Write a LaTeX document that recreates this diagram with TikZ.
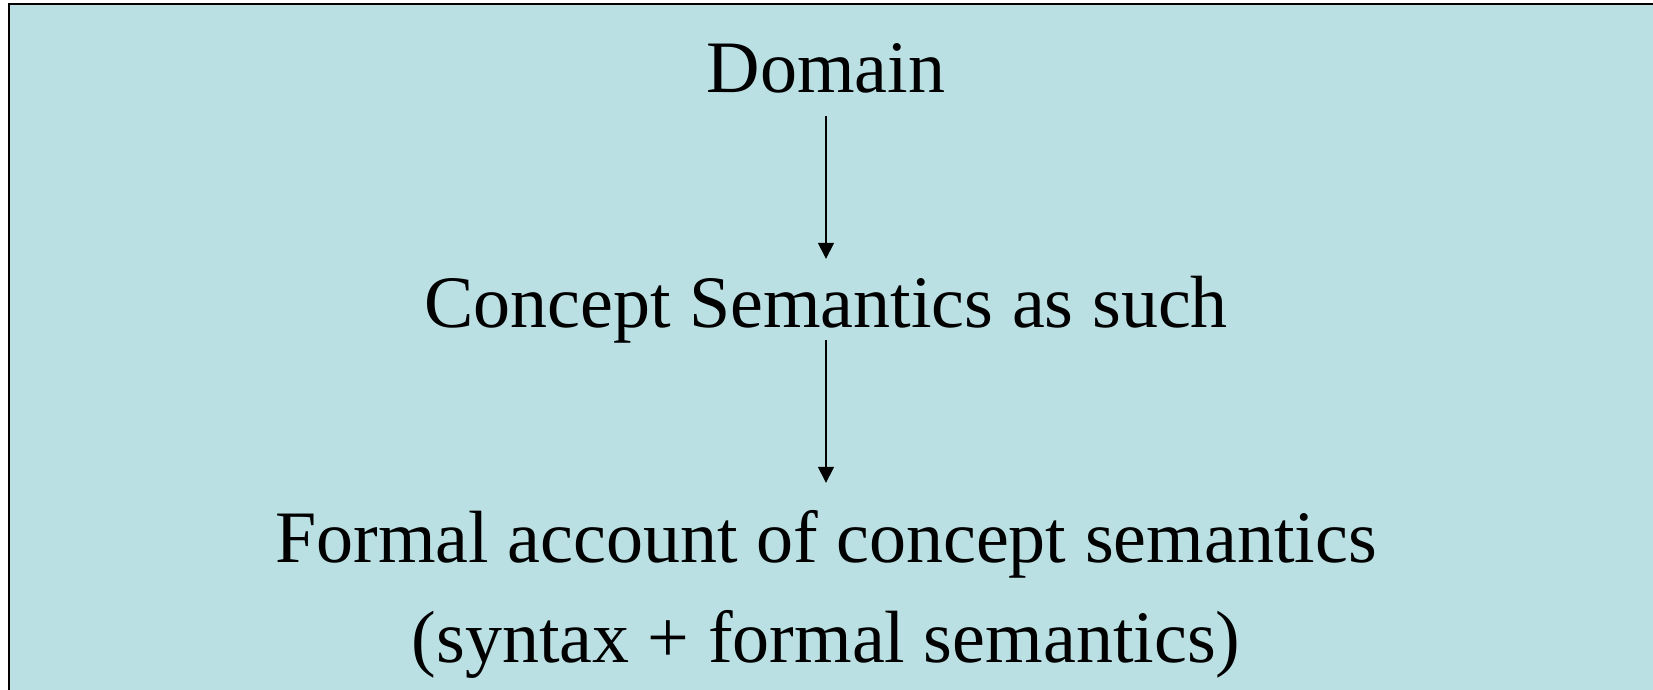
\documentclass[tikz,border=0pt]{standalone}
\usepackage{fontspec}
\setmainfont{Liberation Serif}
\usetikzlibrary{arrows.meta}
\definecolor{panel}{RGB}{186,224,227}
\tikzset{
  lbl/.style={inner sep=0pt, anchor=base, font=\fontsize{74}{100}\selectfont, text height=50pt, text depth=0pt},
  conn/.style={line width=1.6pt, -{Triangle[length=16pt,width=16pt]}}
}
\begin{document}
\begin{tikzpicture}[x=1pt,y=-1pt]
\useasboundingbox (0,0) rectangle (1653,690);
\fill[white] (0,0) rectangle (1653,690);
\fill[panel] (9,4) rectangle (1653,690);
\draw[line width=2.5pt] (9,692) -- (9,4) -- (1655,4);
\node[lbl] (dom) at (826,93) {Domain};
\node[lbl] (con) at (826,327) {Concept Semantics as such};
\node[lbl] (form) at (826,562) {Formal account of concept semantics};
\node[lbl] (formb) at (826,662) {(syntax + formal semantics)};
\draw[conn, shorten <=23pt, shorten >=18pt] (dom.south) -- (con.north);
\draw[conn, shorten <=13pt, shorten >=29pt] (con.south) -- (form.north);
\end{tikzpicture}
\end{document}
